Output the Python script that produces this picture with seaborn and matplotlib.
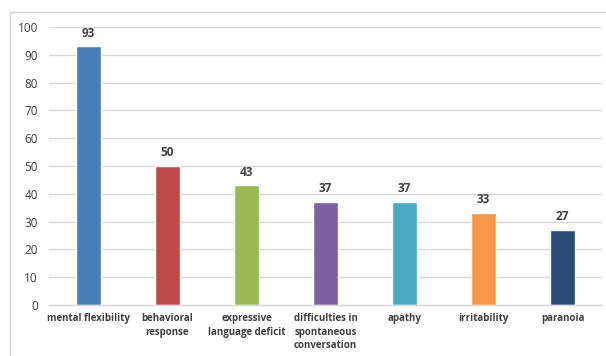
import matplotlib
matplotlib.use("Agg")
import matplotlib.pyplot as plt
import seaborn as sns
import pandas as pd
from matplotlib.patches import Rectangle

categories = ["mental flexibility", "behavioral\nresponse", "expressive\nlanguage deficit",
              "difficulties in\nspontaneous\nconversation", "apathy", "irritability", "paranoia"]
values = [93, 50, 43, 37, 37, 33, 27]
colors = ["#4A7EBB", "#BE4B48", "#98B954", "#7D60A0", "#46AAC5", "#F79646", "#2C4D75"]
yticks = [0, 10, 20, 30, 40, 50, 60, 70, 80, 90, 100]

sns.set_style("white")
plt.rcParams['font.family'] = ['Open Sans', 'DejaVu Sans']

df = pd.DataFrame({"cat": categories, "val": values})

W, H = 606, 356
fig = plt.figure(figsize=(W / 100, H / 100), dpi=100)
ax = fig.add_axes([49 / W, (H - 305) / H, (602 - 49) / W, (305 - 27) / H])

sns.barplot(data=df, x="cat", y="val", hue="cat", palette=colors, legend=False,
            width=0.32, ax=ax, saturation=1)

ax.set_ylim(0, 100)
ax.set_xlim(-0.5, len(categories) - 0.5)
ax.set_yticks(yticks)
ax.set_yticklabels([str(t) for t in yticks], fontsize=8.5, color="#404040")
ax.yaxis.grid(True, color="#D9D9D9", linewidth=1)
ax.set_axisbelow(True)
for s in ["top", "right", "left"]:
    ax.spines[s].set_visible(False)
ax.spines["bottom"].set_color("#D9D9D9")
ax.spines["bottom"].set_linewidth(1)
ax.tick_params(axis="both", length=0)
ax.tick_params(axis="y", pad=8)
ax.tick_params(axis="x", pad=6)
ax.set_xticks(range(len(categories)))
ax.set_xticklabels(categories, fontsize=7, fontweight="bold", color="#404040", linespacing=1.3)
for lab in ax.get_xticklabels():
    lab.set_verticalalignment("top")
ax.set_xlabel("")
ax.set_ylabel("")

for i, v in enumerate(values):
    ax.annotate(str(v), (i, v), xytext=(0, 5), textcoords="offset points",
                ha="center", va="bottom", fontsize=8.5, fontweight="bold", color="#404040")

fig.patches.append(Rectangle((10 / W, -0.1), 1.2, (H - 12) / H + 0.1, transform=fig.transFigure,
                             fill=False, edgecolor="#D9D9D9", linewidth=1))

fig.savefig("out.png", dpi=100)
